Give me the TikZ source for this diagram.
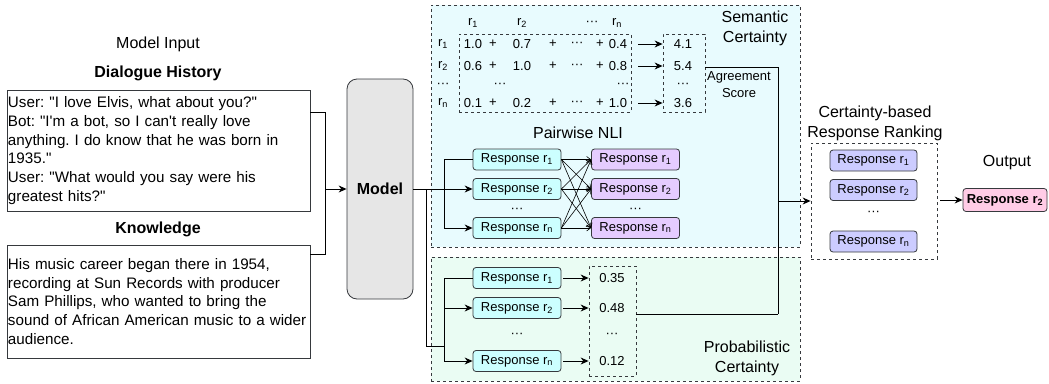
\documentclass[tikz,border=0pt]{standalone}
\usepackage{fontspec}
\setmainfont{Liberation Sans}
\usetikzlibrary{arrows.meta}

\definecolor{edge}{HTML}{36393D}
\definecolor{semfill}{HTML}{E8FBFE}
\definecolor{probfill}{HTML}{EAFCF3}
\definecolor{cyanresp}{HTML}{CCFFFF}
\definecolor{purpleresp}{HTML}{E5CCFF}
\definecolor{rankresp}{HTML}{CCCCFF}
\definecolor{outresp}{HTML}{FFCCE6}
\definecolor{modelfill}{HTML}{E6E6E6}
\newcommand{\qq}{\textquotedbl}
\newcommand{\ap}{\textquotesingle}

\begin{document}
\frenchspacing
\begin{tikzpicture}[x=1pt, y=-1pt,
  every node/.style={font=\fontsize{13}{15}\selectfont, inner sep=0pt},
  big/.style={font=\fontsize{16}{20}\selectfont, align=center},
  txtbox/.style={draw=edge, line width=0.8pt, inner xsep=1pt, text width=301pt,
    minimum height=#1, align=left, font=\fontsize{15.2}{18.8}\selectfont},
  resp/.style={draw=edge, line width=0.8pt, rounded corners=3pt, minimum width=88pt,
    minimum height=21pt, fill=#1},
  dashbox/.style={draw=edge, line width=0.8pt, dash pattern=on 3pt off 3pt},
  arr/.style={-{Stealth[length=8pt,width=7pt]}, line width=0.9pt},
  nli/.style={-{Straight Barb[length=4pt,width=6pt]}, line width=0.6pt},
]
\useasboundingbox (0,0) rectangle (1049,383);
%
\node (inlbl) at (158,44) [big] {Model Input};
\node (dlbl) at (158,73) [big] {\bfseries Dialogue History};
\node (dial) at (158.5,150.5) [txtbox=121pt] {User: \qq I love Elvis, what about you?\qq\\
  Bot: \qq I\ap m a bot, so I can\ap t really love\\
  anything. I do know that he was born in\\
  1935.\qq\\
  User: \qq What would you say were his\\
  greatest hits?\qq};
\node (klbl) at (158,229) [big] {\bfseries Knowledge};
\node (know) at (158.5,301.5) [txtbox=113pt] {His music career began there in 1954,\\
  recording at Sun Records with producer\\
  Sam Phillips, who wanted to bring the\\
  sound of African American music to a wider\\
  audience.};
%
\node (model) at (380,189) [draw=edge, line width=0.8pt, fill=modelfill, rounded corners=10pt,
  minimum width=66pt, minimum height=220pt, big] {\bfseries Model};
\coordinate (injn) at (325,189);
\draw [line width=0.9pt] ([yshift=-23pt]dial.north east) -| (injn);
\draw [line width=0.9pt] ([yshift=-10pt]know.north east) -| (injn);
\draw [arr] (injn) -- (model.west);
%
\node (sem) at (615.5,126) [dashbox, fill=semfill, minimum width=369pt, minimum height=242pt] {};
\node (prob) at (615.5,319) [dashbox, fill=probfill, minimum width=369pt, minimum height=124pt] {};
\node (semlbl) at (755,28) [big] {Semantic\\Certainty};
\node (problbl) at (747,358) [big] {Probabilistic\\Certainty};
%
\node (mat) at (545,73) [dashbox, minimum width=172pt, minimum height=78pt] {};
\node (score) at (684,73) [dashbox, minimum width=42pt, minimum height=78pt] {};
\node (h1) at (473,23) {r\textsubscript{1}};
\node (h2) at (522,23) {r\textsubscript{2}};
\node (hd) at (592,23) {···};
\node (hn) at (617,23) {r\textsubscript{n}};
\foreach \y/\r/\a/\b/\c/\s in {44/1/1.0/0.7/0.4/4.1, 66/2/0.6/1.0/0.8/5.4, 103/n/0.1/0.2/1.0/3.6}{
  \node (row\r) at (443,\y) {r\textsubscript{\r}};
  \node (m\r a) at (473,\y) {\a};
  \node (m\r p) at (493,\y) {+};
  \node (m\r b) at (522,\y) {\b};
  \node (m\r q) at (553,\y) {+};
  \node (m\r d) at (577,\y) {···};
  \node (m\r r) at (600,\y) {+};
  \node (m\r c) at (618,\y) {\c};
  \node (s\r) at (683,\y) {\s};
  \draw [arr] ([xshift=7pt]mat.east |- s\r) -- (score.west |- s\r);
}
\node (rowd) at (443,85) {···};
\node (mdd) at (500,85) {···};
\node (mde) at (623,85) {···};
\node (sd) at (683,85) {···};
\node (agr) at (739,85) [align=center, font=\fontsize{13}{17}\selectfont] {Agreement\\Score};
%
\node (nlilbl) at (578,133) [big] {Pairwise NLI};
\foreach \r/\y in {1/159.5, 2/189, n/228}{
  \node (sA\r) at (517,\y) [resp=cyanresp] {Response r\textsubscript{\r}};
  \node (sB\r) at (635.5,\y) [resp=purpleresp] {Response r\textsubscript{\r}};
}
\node (sAd) at (517,210) {···};
\node (sBd) at (635.5,210) {···};
\foreach \i in {1,2,n}
  \foreach \j in {1,2,n}
    \draw [nli] (sA\i.east) -- (sB\j.west);
\draw [arr] (model.east) -- (sA2.west);
\draw [arr] (sA1.west) -- ++(-28,0) |- (sAn.west);
%
\node (pbox) at (612.5,321) [dashbox, minimum width=47pt, minimum height=110pt] {};
\foreach \r/\y/\p in {1/278/0.35, 2/308/0.48, n/361/0.12}{
  \node (pA\r) at (517,\y) [resp=cyanresp] {Response r\textsubscript{\r}};
  \node (pv\r) at (612,\y) {\p};
  \draw [arr] ([xshift=2pt]pA\r.east) -- (pbox.west |- pA\r);
}
\node (pAd) at (517,335) {···};
\node (pvd) at (612,335) {···};
\coordinate (mjn) at (426,189);
\coordinate (pjn) at (445,346);
\draw [line width=0.9pt] (mjn) |- (pjn);
\draw [arr] (pA1.west) -- ++(-28,0) |- (pAn.west);
\draw [arr] (pA2.west -| pjn) -- (pA2.west);
%
\node (ranklbl) at (875,123) [big] {Certainty-based\\Response Ranking};
\node (rank) at (874,201) [dashbox, minimum width=126pt, minimum height=116pt] {};
\node (rR1) at (873.5,160.5) [resp=rankresp, minimum width=87pt] {Response r\textsubscript{1}};
\node (rR2) at (873.5,190) [resp=rankresp, minimum width=87pt] {Response r\textsubscript{2}};
\node (rRd) at (873.5,213) {···};
\node (rRn) at (873.5,241.5) [resp=rankresp, minimum width=87pt] {Response r\textsubscript{n}};
\coordinate (agjn) at (778,314);
\draw [line width=0.9pt] ([yshift=6pt]score.east) -| (agjn);
\draw [line width=0.9pt] (pbox.east |- agjn) -- (agjn);
\draw [arr] (rank.west -| agjn) -- (rank.west);
%
\node (outlbl) at (1007,163) [big] {Output};
\node (out) at (1005,200) [resp=outresp, minimum width=84pt, minimum height=23pt] {\bfseries Response r\textsubscript{2}};
\draw [arr] ([xshift=3pt]rank.east |- out) -- (out.west);
\end{tikzpicture}
\end{document}
